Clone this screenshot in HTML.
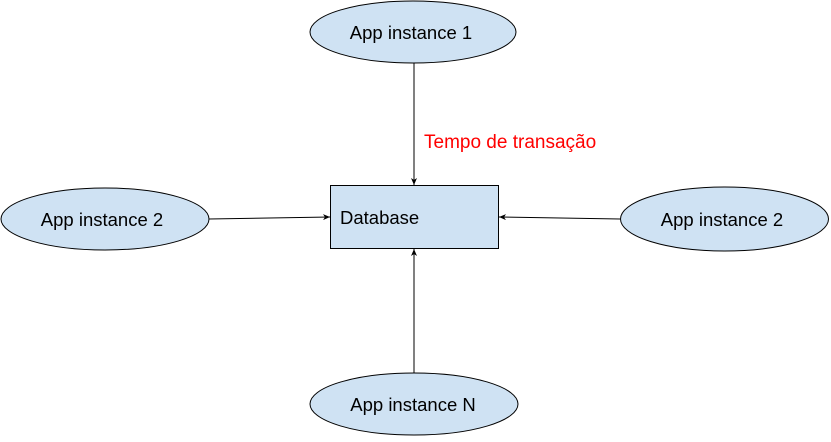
<!DOCTYPE html>
<html><head><style>body{margin:0;background:#fff}svg{display:block}</style></head><body>
<svg width="831" height="442" viewBox="0 0 831 442" xmlns="http://www.w3.org/2000/svg" font-family="Liberation Sans, Arial, sans-serif">
<defs><marker id="a" markerWidth="8" markerHeight="6" refX="7" refY="3" orient="auto" markerUnits="userSpaceOnUse"><path d="M0,0 L7,3 L0,6 L2,3 Z" fill="#000"/></marker></defs>
<g fill="#cfe2f3" stroke="#000" stroke-width="1">
<ellipse cx="413" cy="32" rx="103" ry="31"/>
<ellipse cx="105" cy="219" rx="104" ry="31"/>
<ellipse cx="724.5" cy="219" rx="104" ry="32"/>
<ellipse cx="414" cy="404" rx="104" ry="31"/>
<rect x="330.5" y="185.5" width="168" height="63"/>
</g>
<g stroke="#000" stroke-width="1" fill="none" marker-end="url(#a)">
<line x1="414" y1="63" x2="414" y2="185"/>
<line x1="209" y1="219" x2="330" y2="217"/>
<line x1="620" y1="219" x2="499" y2="217"/>
<line x1="414" y1="373" x2="414" y2="249"/>
</g>
<g font-size="18.5" fill="#000" text-anchor="middle">
<text x="411" y="39">App instance 1</text>
<text x="102" y="226">App instance 2</text>
<text x="722" y="226">App instance 2</text>
<text x="413" y="411">App instance N</text>
<text x="340" y="224" text-anchor="start">Database</text>
</g>
<text x="424" y="148" font-size="19" fill="#ff0000">Tempo de transação</text>
</svg>
</body></html>
